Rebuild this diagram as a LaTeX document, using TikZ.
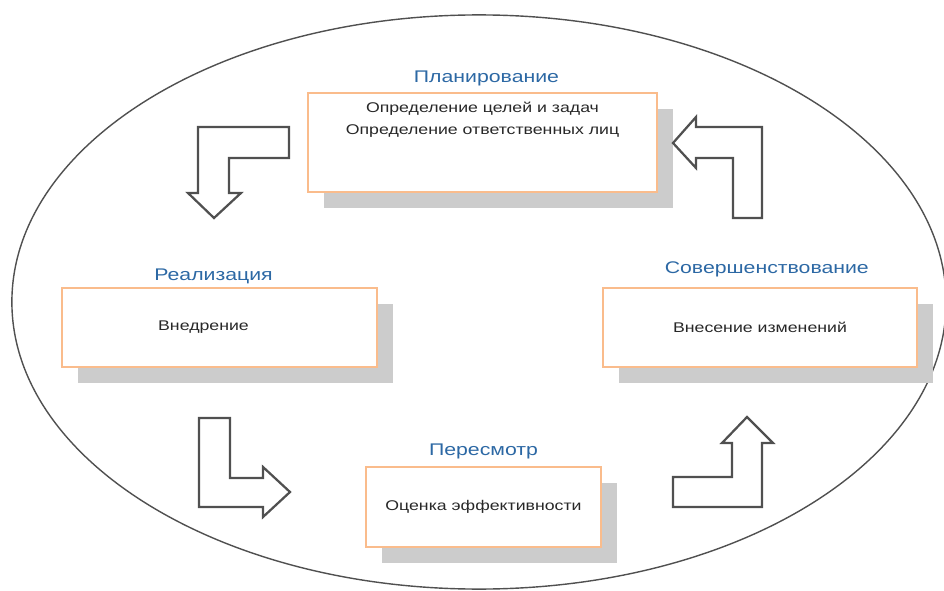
\documentclass[tikz,border=0pt]{standalone}
\usepackage{fontspec}
\newfontfamily\stretchsans[FakeStretch=1.26]{Liberation Sans}
\usepackage{tikz}
\usetikzlibrary{positioning}
\usetikzlibrary{shadows}

\definecolor{titleblue}{RGB}{44,104,164}
\definecolor{boxorange}{RGB}{250,188,140}
\definecolor{shadowgray}{RGB}{204,204,204}
\definecolor{linegray}{RGB}{80,80,80}
\definecolor{textgray}{RGB}{40,40,40}

\begin{document}
\begin{tikzpicture}[
  x=0.025cm, y=-0.025cm,
  font=\stretchsans
]
\tikzset{
    stagebox/.style = {rectangle, draw=boxorange, line width=0.8pt, fill=white, inner sep=0pt,
      drop shadow={shadow xshift=0.4cm, shadow yshift=-0.4cm, fill=shadowgray, opacity=1}},
    stagetitle/.style = {text=titleblue, font=\stretchsans\fontsize{12}{14}\selectfont},
    bodytext/.style = {text=textgray, align=center, font=\stretchsans\fontsize{10}{15.6}\selectfont},
    turnarrow/.style = {draw=linegray, line width=1.6pt, fill=white, line join=miter},
}
\useasboundingbox (0,0) rectangle (944,590);
\draw[linegray, line width=1pt] (479,302) ellipse [x radius=11.675cm, y radius=7.175cm];

% stages
\node[stagebox, minimum width=8.725cm, minimum height=2.475cm,
  label={[stagetitle, label distance=0.7pt, xshift=0.1cm]above:Планирование}] (plan) at (482.5,142.5) {};
\node[stagebox, minimum width=7.875cm, minimum height=1.975cm,
  label={[stagetitle, label distance=-0.7pt, xshift=-0.15cm]above:Реализация}] (real) at (219.5,327.5) {};
\node[stagebox, minimum width=5.875cm, minimum height=2.0cm,
  label={[stagetitle, label distance=2pt]above:Пересмотр}] (rev) at (483.5,507) {};
\node[stagebox, minimum width=7.85cm, minimum height=1.975cm,
  label={[stagetitle, label distance=4pt, xshift=0.17cm]above:Совершенствование}] (impr) at (760,327.5) {};

\node[bodytext] (plantxt) at (482.5,120) {Определение целей и задач\\Определение ответственных лиц};
\node[bodytext] (realtxt) at ([xshift=-0.4cm]real.center) {Внедрение};
\node[bodytext] (revtxt) at (rev.center) {Оценка эффективности};
\node[bodytext] (imprtxt) at (impr.center) {Внесение изменений};

% turning arrows
\draw[turnarrow] (198,127) -- (289,127) -- (289,158) -- (229,158) -- (229,193) -- (241,193)
  -- (214,218) -- (188,193) -- (198,193) -- cycle;
\draw[turnarrow] (199,418) -- (230,418) -- (230,478) -- (263,478) -- (263,467) -- (290,492)
  -- (263,517) -- (263,507) -- (199,507) -- cycle;
\draw[turnarrow] (747,417) -- (773,443) -- (762,443) -- (762,507) -- (673,507) -- (673,477)
  -- (732,477) -- (732,443) -- (722,443) -- cycle;
\draw[turnarrow] (673,143) -- (696,117) -- (696,127) -- (762,127) -- (762,218) -- (733,218)
  -- (733,158) -- (696,158) -- (696,168) -- cycle;
\end{tikzpicture}
\end{document}
